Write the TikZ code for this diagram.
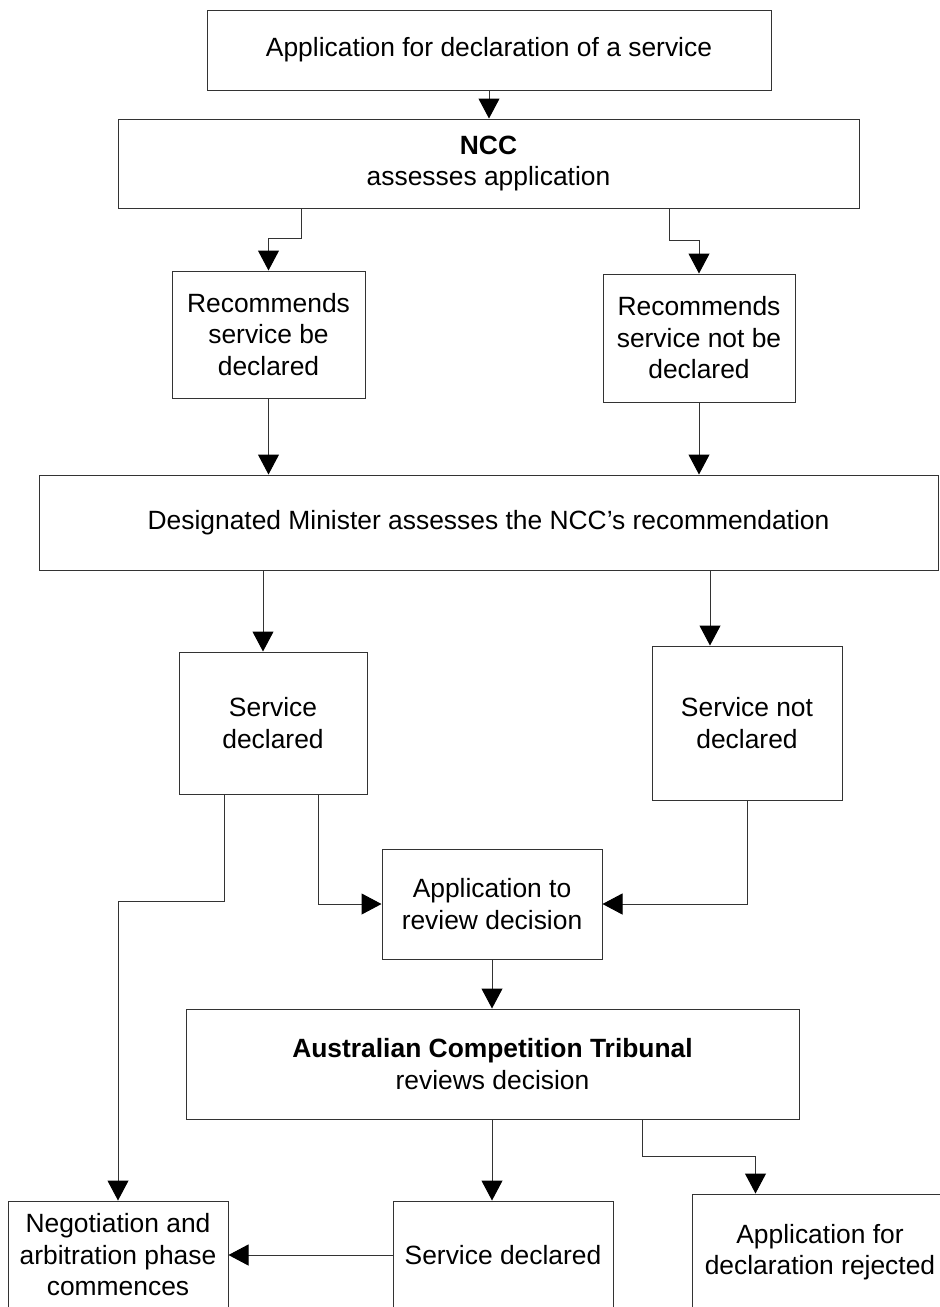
\documentclass[tikz,border=0pt]{standalone}
\usepackage{fontspec}
\setmainfont{Liberation Sans}
\usetikzlibrary{arrows.meta}
\begin{document}
\begin{tikzpicture}[x=1pt,y=-1pt,
  box/.style={draw=black!80,line width=1pt,inner sep=0pt,align=center,
    font=\fontsize{26.4}{31.5}\selectfont},
  arr/.style={draw=black!80,line width=1pt,-{Triangle[width=21pt,length=20pt,color=black]}},
  ln/.style={draw=black!80,line width=1pt}]
\useasboundingbox (0,0) rectangle (940,1307);
\clip (0,0) rectangle (940,1307);
\fill[white] (0,0) rectangle (940,1307);
% nodes
\node[box,minimum width=564,minimum height=80] (box1) at (489,50) {Application for declaration of a service};
\node[box,minimum width=741,minimum height=89] (ncc) at (488.5,163.5) {\textbf{NCC}\\assesses application};
\node[box,minimum width=193,minimum height=127] (rec1) at (268.5,334.5) {Recommends\\service be\\declared};
\node[box,minimum width=192,minimum height=128] (rec2) at (699,338) {Recommends\\service not be\\declared};
\node[box,minimum width=899,minimum height=95] (min) at (488.5,522.5) {Designated Minister assesses the NCC’s recommendation};
\node[box,minimum width=188,minimum height=142] (sd) at (273,723) {Service\\declared};
\node[box,minimum width=190,minimum height=154] (snd) at (747,723) {Service not\\declared};
\node[box,minimum width=220,minimum height=110] (appr) at (492,904) {Application to\\review decision};
\node[box,minimum width=613,minimum height=110] (act) at (492.5,1064) {\textbf{Australian Competition Tribunal}\\reviews decision};
\node[box,minimum width=220,minimum height=108] (neg) at (118,1255) {Negotiation and\\arbitration phase\\commences};
\node[box,minimum width=220,minimum height=108] (sd2) at (503,1255) {Service declared};
\node[box,minimum width=256,minimum height=116] (rej) at (820,1252) {Application for\\declaration rejected};
% connectors
\draw[arr] (box1.south) -- (box1.south |- ncc.north);
\draw[arr] ([xshift=184pt]ncc.south west) -- ++(0,30) -| (rec1.north);
\draw[arr] ([xshift=552pt]ncc.south west) -- ++(0,32) -| (rec2.north);
\draw[arr] (rec1.south) -- (rec1.south |- min.north);
\draw[arr] (rec2.south) -- (rec2.south |- min.north);
\draw[arr] ([xshift=-10pt]sd.north |- min.south) -- ([xshift=-10pt]sd.north);
\draw[arr] ([xshift=-37pt]snd.north |- min.south) -- ([xshift=-37pt]snd.north);
\draw[arr] ([xshift=46pt]sd.south west) -- ++(0,107) -| (neg.north);
\draw[arr] ([xshift=140pt]sd.south west) |- (appr.west);
\draw[arr] (snd.south) |- (appr.east);
\draw[arr] (appr.south) -- (appr.south |- act.north);
\draw[arr] ([xshift=-11pt]sd2.north |- act.south) -- ([xshift=-11pt]sd2.north);
\draw[arr] ([xshift=457pt]act.south west) -- ++(0,37) -| ([xshift=64pt]rej.north west);
\draw[arr] (sd2.west) -- (neg.east);
\end{tikzpicture}
\end{document}
